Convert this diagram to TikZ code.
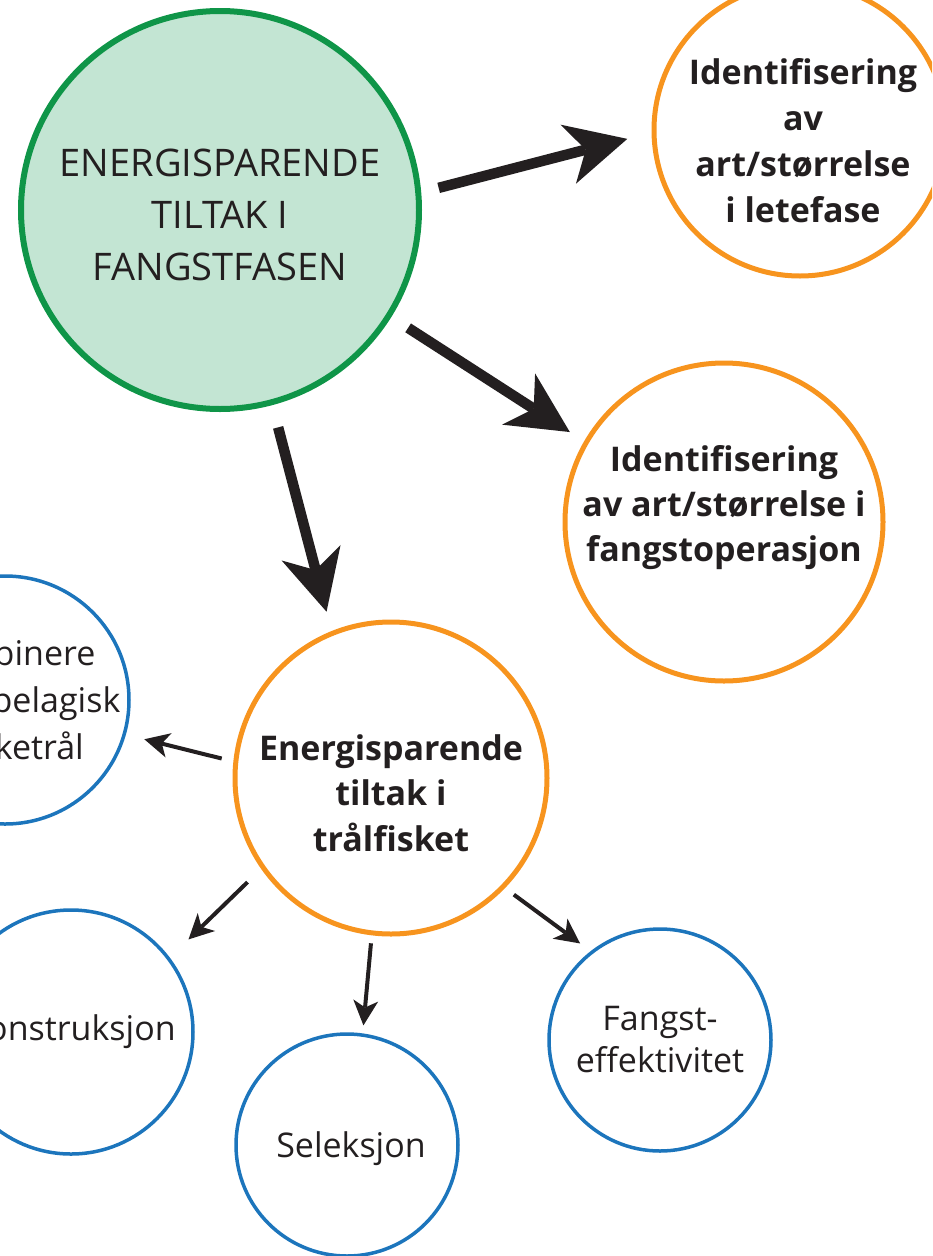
\documentclass[tikz,border=0pt]{standalone}
\usepackage{fontspec}
\setmainfont{Open Sans}
\usetikzlibrary{arrows.meta}
\definecolor{fgreen}{HTML}{0F9548}
\definecolor{fgreenfill}{HTML}{C3E5D3}
\definecolor{forange}{HTML}{F7941E}
\definecolor{fblue}{HTML}{1C75BC}
\definecolor{ftext}{HTML}{231F20}
\begin{document}
\begin{tikzpicture}[x=1pt,y=-1pt,
        hovud/.style={circle,draw=fgreen,fill=fgreenfill,line width=6pt,inner sep=0pt},
        tiltak/.style={circle,draw=forange,line width=5pt,inner sep=0pt},
        del/.style={circle,draw=fblue,line width=3.5pt,inner sep=0pt},
        tekst/.style={text=ftext,align=center,inner sep=0pt},
        stor/.style={draw=ftext,line width=10.5pt,-{Stealth[length=61pt,width=61pt,inset=18pt,line width=0pt]}},
        liten/.style={draw=ftext,line width=4pt,-{Stealth[length=25pt,width=25pt,inset=7pt,line width=0pt]}}]
        \useasboundingbox (0,0) rectangle (932,1256);
        \clip (0,0) rectangle (932,1256);

        % sirklar
        \node[hovud,minimum size=398pt] (fangst) at (220,210) {};
        \node[tiltak,minimum size=292pt] (lete) at (800,130) {};
        \node[tiltak,minimum size=318pt] (operasjon) at (724,522) {};
        \node[tiltak,minimum size=312pt] (tral) at (391,778) {};
        \node[del,minimum size=248pt] (kombinere) at (5,700) {};
        \node[del,minimum size=244pt] (konstruksjon) at (71,1032) {};
        \node[del,minimum size=222pt] (seleksjon) at (347,1145) {};
        \node[del,minimum size=222pt] (effektivitet) at (660,1040) {};

        % tekst
        \node[tekst,font=\fontsize{38}{52}\selectfont] (fangsttekst) at ([yshift=-5pt]fangst) {ENERGISPARENDE\\TILTAK I\\FANGSTFASEN};
        \node[tekst,font=\bfseries\fontsize{34}{46}\selectfont] (letetekst) at ([xshift=3pt,yshift=-11pt]lete) {Identifisering\\av\\art/størrelse\\i letefase};
        \node[tekst,font=\bfseries\fontsize{34}{45}\selectfont] (operasjontekst) at ([yshift=14pt]operasjon) {Identifisering\\av art/størrelse i\\fangstoperasjon};
        \node[tekst,font=\bfseries\fontsize{34}{45.5}\selectfont] (traltekst) at ([yshift=-15pt]tral) {Energisparende\\tiltak i\\trålfisket};
        \node[tekst,font=\fontsize{34}{47}\selectfont] (kombineretekst) at ([xshift=3pt]kombinere) {Kombinere\\bunn/pelagisk\\torsketrål};
        \node[tekst,font=\fontsize{34}{42}\selectfont] (konstruksjontekst) at (konstruksjon) {Konstruksjon};
        \node[tekst,font=\fontsize{34}{42}\selectfont] (seleksjontekst) at ([xshift=4pt,yshift=-4pt]seleksjon) {Seleksjon};
        \node[tekst,font=\fontsize{34}{42}\selectfont] (effektivitettekst) at (effektivitet) {Fangst-\\effektivitet};

        % piler
        \draw[stor,shorten <=18pt,shorten >=25pt] (fangst.5) -- (lete.181);
        \draw[stor,shorten <=20pt,shorten >=17pt] (fangst.328) -- (operasjon.150);
        \draw[stor,shorten <=23pt,shorten >=20pt] (fangst.285) -- (tral.112);
        \draw[liten,shorten <=12pt,shorten >=19pt] (tral.174) -- (kombinere.344);
        \draw[liten,shorten <=19pt,shorten >=26pt] (tral.215) -- (konstruksjon.37);
        \draw[liten,shorten <=8pt,shorten >=8pt] (tral.263) -- (seleksjon.82);
        \draw[liten,shorten <=11pt,shorten >=13pt] (tral.316) -- (effektivitet.128);
\end{tikzpicture}
\end{document}
